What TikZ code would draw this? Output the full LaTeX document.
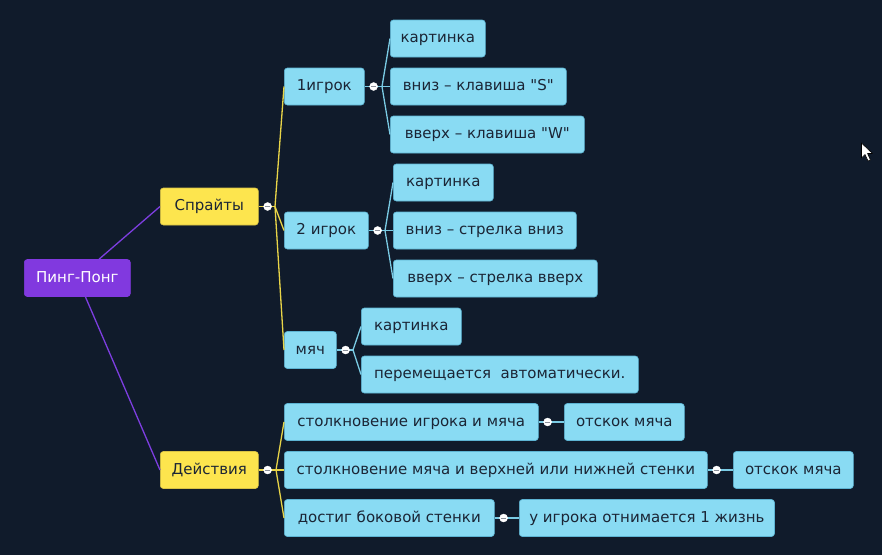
\documentclass[tikz,border=0pt]{standalone}
\usepackage{fontspec}
\setmainfont{DejaVu Sans}[Ligatures=TeXOff]
\definecolor{bg}{HTML}{101B2B}
\definecolor{rootc}{HTML}{8139DF}
\definecolor{yel}{HTML}{FDE54E}
\definecolor{yelb}{HTML}{D8C245}
\definecolor{blu}{HTML}{89DBF3}
\definecolor{blub}{HTML}{5DB4D3}
\definecolor{txt}{HTML}{1B2535}
\definecolor{plc}{HTML}{7D3EE0}
\definecolor{ylc}{HTML}{E9D548}
\definecolor{blc}{HTML}{7ACBE4}
\definecolor{dotc}{HTML}{8A8F99}
\tikzset{
  box/.style={rounded corners=3pt, minimum height=37pt, inner xsep=10pt, inner ysep=0pt,
    font=\fontsize{15}{17}\selectfont, text=txt, anchor=west, line width=0.6pt,
    text height=11pt, text depth=3pt},
  rootbox/.style={box, fill=rootc, draw=rootc, text=white},
  lone/.style={box, fill=yel, draw=yelb},
  ltwo/.style={box, fill=blu, draw=blub},
  pl/.style={draw=plc, line width=1.3pt},
  yl/.style={draw=ylc, line width=1.3pt},
  bl/.style={draw=blc, line width=1.3pt},
  knob/.style={circle, fill=white, draw=white, inner sep=0pt, minimum size=8pt,
    path picture={\draw[dotc, line width=0.8pt] ([xshift=-2.2pt]path picture bounding box.center) -- ([xshift=2.2pt]path picture bounding box.center);}}
}
\begin{document}
\begin{tikzpicture}[x=1pt,y=-1pt]
\fill[bg] (0,0) rectangle (882,555);
\useasboundingbox (0,0) rectangle (882,555);

% connectors' fork points
\coordinate (fs) at (275,206.5);
\coordinate (fa) at (276,470);
\coordinate (f1) at (382,86.5);
\coordinate (f2) at (385,230.5);
\coordinate (f3) at (353,350);

% nodes
\node[rootbox, minimum width=106pt] (root) at (24,278) {Пинг-Понг};
\node[lone, minimum width=98pt] (spr) at (160,206.5) {Спрайты};
\node[lone, minimum width=98pt] (act) at (160,470) {Действия};

\node[ltwo, minimum width=80pt] (p1) at (284,86.5) {1игрок};
\node[ltwo, minimum width=84pt] (p2) at (284,230.5) {2 игрок};
\node[ltwo, minimum width=52pt] (ball) at (284,350) {мяч};

\node[ltwo, minimum width=95pt] (a1) at (390,38.5) {картинка};
\node[ltwo, minimum width=176pt] (a2) at (390,86.5) {вниз – клавиша "S"};
\node[ltwo, minimum width=194pt] (a3) at (390,134.5) {вверх – клавиша "W"};

\node[ltwo, minimum width=100pt] (b1) at (393,182.5) {картинка};
\node[ltwo, minimum width=183pt] (b2) at (393,230.5) {вниз – стрелка вниз};
\node[ltwo, minimum width=204pt] (b3) at (393,278.5) {вверх – стрелка вверх};

\node[ltwo, minimum width=100pt] (c1) at (361,326.5) {картинка};
\node[ltwo, minimum width=277pt] (c2) at (361,374.5) {перемещается~~автоматически.};

\node[ltwo, minimum width=254pt] (d1) at (284,422) {столкновение игрока и мяча};
\node[ltwo, minimum width=120pt] (d1r) at (564,422) {отскок мяча};
\node[ltwo, minimum width=423pt] (d2) at (284,470) {столкновение мяча и верхней или нижней стенки};
\node[ltwo, minimum width=120pt] (d2r) at (733,470) {отскок мяча};
\node[ltwo, minimum width=210pt] (d3) at (284,518) {достиг боковой стенки};
\node[ltwo, minimum width=254pt] (d3r) at (519,518) {у игрока отнимается 1 жизнь};

% connectors
\draw[pl] (root) -- (spr.west);
\draw[pl] (root) -- (act.west);

\draw[yl] (spr.east) -- (fs);
\draw[yl] (fs) -- (p1.west);
\draw[yl] (fs) -- (p2.west);
\draw[yl] (fs) -- (ball.west);

\draw[yl] (act.east) -- (fa);
\draw[yl] (fa) -- (d1.west);
\draw[yl] (fa) -- (d2.west);
\draw[yl] (fa) -- (d3.west);

\draw[bl] (p1.east) -- (f1);
\draw[bl] (f1) -- (a1.west);
\draw[bl] (f1) -- (a2.west);
\draw[bl] (f1) -- (a3.west);

\draw[bl] (p2.east) -- (f2);
\draw[bl] (f2) -- (b1.west);
\draw[bl] (f2) -- (b2.west);
\draw[bl] (f2) -- (b3.west);

\draw[bl] (ball.east) -- (f3);
\draw[bl] (f3) -- (c1.west);
\draw[bl] (f3) -- (c2.west);

\draw[bl] (d1.east) -- (d1r.west);
\draw[bl] (d2.east) -- (d2r.west);
\draw[bl] (d3.east) -- (d3r.west);

% knobs
\node[knob] (ks) at ([xshift=9pt]spr.east) {};
\node[knob] (ka) at ([xshift=9pt]act.east) {};
\node[knob] (k1) at ([xshift=9pt]p1.east) {};
\node[knob] (k2) at ([xshift=9pt]p2.east) {};
\node[knob] (k3) at ([xshift=9pt]ball.east) {};
\node[knob] (kd1) at ([xshift=9pt]d1.east) {};
\node[knob] (kd2) at ([xshift=9pt]d2.east) {};
\node[knob] (kd3) at ([xshift=9pt]d3.east) {};

% mouse cursor
\filldraw[fill=white, draw=black, line width=0.6pt, line join=round]
  (861.5,143) -- (861.5,158) -- (865,154.5) -- (868,161) -- (870.5,160) -- (867.5,153.5) -- (872.5,153.5) -- cycle;
\end{tikzpicture}
\end{document}
